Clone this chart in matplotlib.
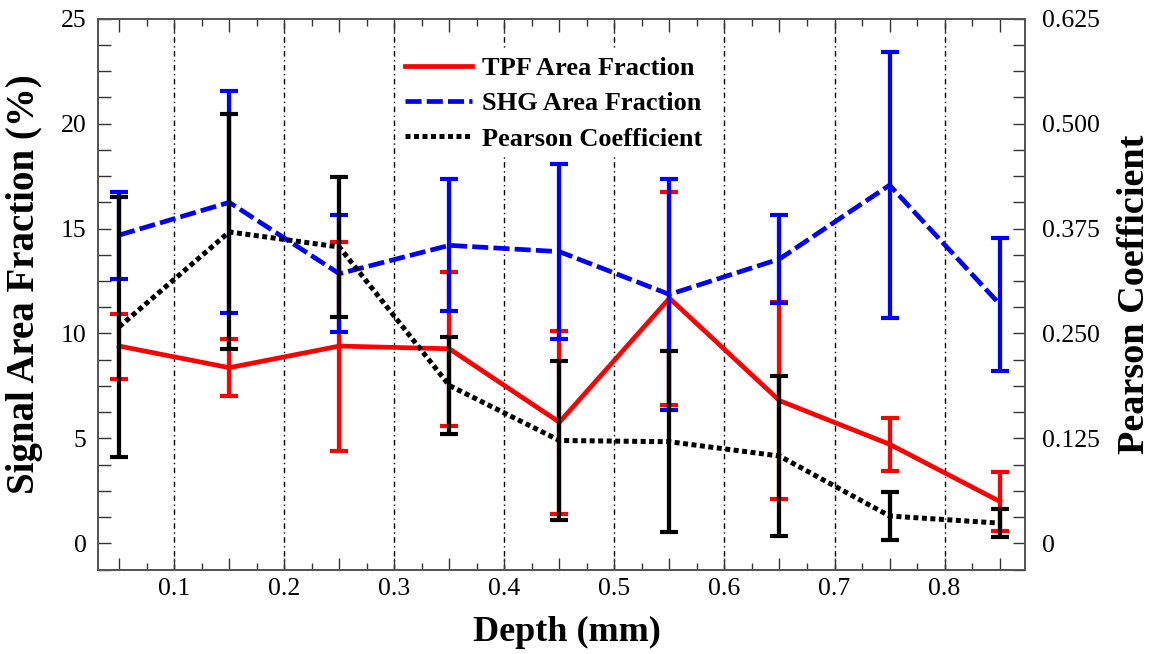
import matplotlib
matplotlib.use("Agg")
import matplotlib.pyplot as plt
from matplotlib.ticker import MultipleLocator, FuncFormatter

# Depth bins (mm) and per-bin means / standard deviations
depth = [0.05, 0.15, 0.25, 0.35, 0.45, 0.55, 0.65, 0.75, 0.85]

tpf_mean = [9.4, 8.37, 9.4, 9.27, 5.77, 11.68, 6.8, 4.72, 2.0]
tpf_sd = [1.55, 1.35, 4.98, 3.66, 4.37, 5.08, 4.7, 1.27, 1.4]

shg_mean = [14.69, 16.25, 12.85, 14.2, 13.9, 11.86, 13.55, 17.07, 11.4]
shg_sd = [2.07, 5.29, 2.8, 3.15, 4.18, 5.5, 2.12, 6.34, 3.17]

pearson_mean = [0.258, 0.371, 0.353, 0.188, 0.1225, 0.121, 0.104, 0.0325, 0.024]
pearson_sd = [0.155, 0.140, 0.083, 0.058, 0.095, 0.108, 0.095, 0.029, 0.017]

grid_x = [0.1, 0.2, 0.3, 0.4, 0.5, 0.6, 0.7, 0.8]

plt.rcParams["font.family"] = ["Liberation Serif", "DejaVu Serif"]

fig = plt.figure(figsize=(11.57, 6.54), dpi=100)
ax = fig.add_axes([0.0845, 0.1292, 0.8018, 0.8421])
ax2 = ax.twinx()

LW = 3.4
CAP = 6.5
CAPT = 3.0

# Vertical dash-dot guides
for gx in grid_x:
    ax.axvline(gx, color="black", lw=1.0, linestyle=(0, (4, 2.5, 1, 2.5)), zorder=1)

eb_tpf = ax.errorbar(depth, tpf_mean, yerr=tpf_sd, color="#ff0000", lw=LW,
                     elinewidth=LW * 0.9, capsize=CAP, capthick=CAPT,
                     linestyle="-", zorder=2)
eb_shg = ax.errorbar(depth, shg_mean, yerr=shg_sd, color="#0000ff", lw=LW,
                     elinewidth=LW * 0.9, capsize=CAP, capthick=CAPT,
                     linestyle=(0, (3.4, 1.1)), zorder=3)
eb_p = ax2.errorbar(depth, pearson_mean, yerr=pearson_sd, color="black", lw=3.6,
                    elinewidth=LW * 0.9, capsize=CAP, capthick=CAPT,
                    linestyle=(0, (1.0, 0.7)), zorder=4)

ax.set_xlim(0.0305, 0.8735)
ax.set_ylim(-1.25, 25)
ax2.set_ylim(-0.03125, 0.625)

# Ticks: inward on all four sides
ax.xaxis.set_major_locator(MultipleLocator(0.05))
ax.xaxis.set_minor_locator(MultipleLocator(0.025))

def xfmt(v, pos):
    k = round(v * 20)
    if k % 2 == 0 and k > 0:
        return f"{v:.1f}"
    return ""

ax.xaxis.set_major_formatter(FuncFormatter(xfmt))
ax.yaxis.set_major_locator(MultipleLocator(5))
ax.yaxis.set_minor_locator(MultipleLocator(1.25))
ax2.yaxis.set_major_locator(MultipleLocator(0.125))
ax2.yaxis.set_minor_locator(MultipleLocator(0.03125))
ax2.yaxis.set_major_formatter(FuncFormatter(lambda v, p: "0" if abs(v) < 1e-9 else f"{v:.3f}"))

ax.tick_params(axis="x", which="both", direction="in", top=True, bottom=True,
               labelsize=18.5, pad=6, width=1.0, color="#333333")
ax.tick_params(axis="x", which="major", length=9)
ax.tick_params(axis="x", which="minor", length=5)
ax.tick_params(axis="y", which="both", direction="in", left=True, right=False,
               labelsize=18.5, pad=8, length=9, width=1.0, color="#333333")
ax2.tick_params(axis="y", which="both", direction="in", right=True, left=False,
                labelsize=18.5, pad=12, length=9, width=1.0, color="#333333")

for a in (ax, ax2):
    for s in a.spines.values():
        s.set_color("#555555")
        s.set_linewidth(1.3)

ax.set_xlabel("Depth (mm)", fontsize=26, fontweight="bold", labelpad=4)
ax.xaxis.set_label_coords(0.506, -0.085)
ax.set_ylabel("Signal Area Fraction (%)", fontsize=28, fontweight="bold", labelpad=4)
ax.yaxis.set_label_coords(-0.059, 0.518)
ax2.set_ylabel("Pearson Coefficient", fontsize=27.5, fontweight="bold", labelpad=12)

leg = ax2.legend([eb_tpf[0], eb_shg[0], eb_p[0]],
                 ["TPF Area Fraction", "SHG Area Fraction", "Pearson Coefficient"],
                 loc="upper left", bbox_to_anchor=(0.325, 0.941),
                 prop={"size": 19, "weight": "bold"},
                 frameon=True, facecolor="white", edgecolor="none", framealpha=1,
                 handlelength=2.55, handletextpad=0.4, labelspacing=0.45,
                 borderpad=0.2, borderaxespad=0)
leg.set_zorder(10)

fig.savefig("out.png", dpi=100, facecolor="white")
